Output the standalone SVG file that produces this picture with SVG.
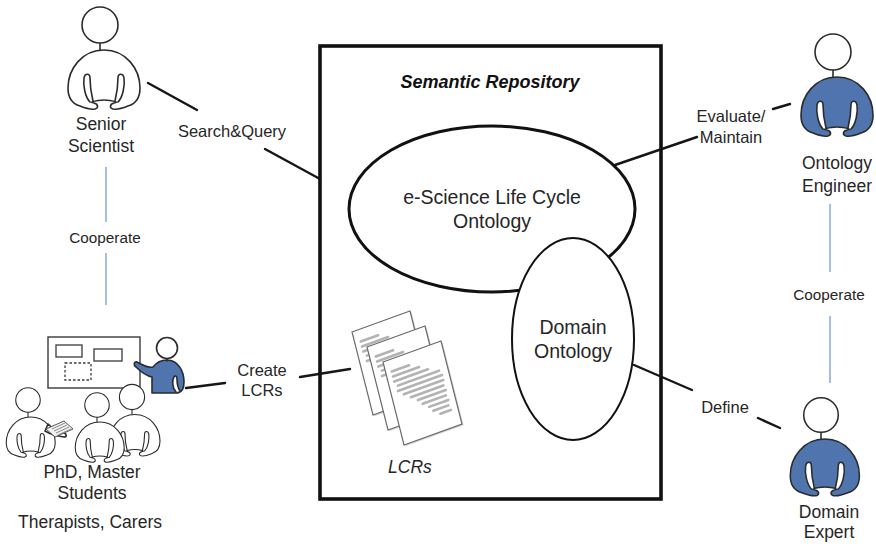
<svg xmlns="http://www.w3.org/2000/svg" xmlns:xlink="http://www.w3.org/1999/xlink" width="876" height="544" viewBox="0 0 876 544">
  <style>
    text { font-family: "Liberation Sans", Arial, sans-serif; fill: #262626; text-anchor: middle; }
    .lbl { font-size: 16.5px; }
    .coop { font-size: 15.3px; }
    .who { font-size: 17.5px; }
    .onto { font-size: 19.5px; }
    .title { font-size: 18px; font-weight: bold; font-style: italic; fill: #111; }
    .ital { font-size: 17.5px; font-style: italic; }
    .link { stroke: #161616; stroke-width: 2.4; fill: none; stroke-linecap: round; }
    .coop-link { stroke: #8eaee0; stroke-width: 1.6; fill: none; }
    .ink { stroke: #2b2b2b; stroke-width: 1.6; stroke-linejoin: round; stroke-linecap: round; }
    .page { fill: #fff; stroke: #6a6a6a; stroke-width: 1.2; }
    .textline { stroke: #b3b3b3; stroke-width: 2.6; stroke-linecap: round; }
  </style>
  <defs>
    <!-- seated/standing figure, head centred on the origin -->
    <g id="person">
      <path class="ink" d="M0,18 V26"/>
      <path class="ink" d="M4,25 C26,25 40,44 40,63 C40,73 35,79 28,81 C23,83 18,85 13,84 C9,83 10,79 14,78 L17,77 C13,76 8,75 4,75 C0,75 -5,76 -9,77 L-6,78 C-2,79 -1,83 -5,84 C-10,85 -15,83 -20,81 C-27,79 -32,73 -32,63 C-32,44 -18,25 4,25 Z"/>
      <path class="ink" fill="#fff" d="M-10,77 C-15,72 -17,60 -16,53 C-15,48 -10,48 -10,53 C-10,60 -9,68 -7,76"/>
      <path class="ink" fill="#fff" d="M18,77 C23,72 25,60 24,53 C23,48 18,48 18,53 C18,60 17,68 15,76"/>
      <circle class="ink" cx="0" cy="0" r="18" fill="#fff"/>
    </g>
    <!-- one document sheet in a 100x100 frame -->
    <g id="sheet">
      <path d="M2,2 L102,2 L102,102 L2,102 Z" fill="#d6d6d6" stroke="none"/>
      <path class="page" d="M0,0 L100,0 L100,100 L0,100 Z" vector-effect="non-scaling-stroke"/>
      <g class="textline" vector-effect="non-scaling-stroke">
        <line x1="10" y1="14" x2="40" y2="14" vector-effect="non-scaling-stroke"/>
        <line x1="10" y1="20" x2="55" y2="20" vector-effect="non-scaling-stroke"/>
        <line x1="10" y1="26" x2="68" y2="26" vector-effect="non-scaling-stroke"/>
        <line x1="14" y1="32" x2="85" y2="32" vector-effect="non-scaling-stroke"/>
        <line x1="12" y1="38" x2="88" y2="38" vector-effect="non-scaling-stroke"/>
        <line x1="20" y1="44" x2="88" y2="44" vector-effect="non-scaling-stroke"/>
        <line x1="30" y1="50" x2="86" y2="50" vector-effect="non-scaling-stroke"/>
        <line x1="40" y1="56" x2="88" y2="56" vector-effect="non-scaling-stroke"/>
        <line x1="46" y1="62" x2="86" y2="62" vector-effect="non-scaling-stroke"/>
        <line x1="55" y1="68" x2="88" y2="68" vector-effect="non-scaling-stroke"/>
        <line x1="60" y1="74" x2="86" y2="74" vector-effect="non-scaling-stroke"/>
        <line x1="70" y1="80" x2="88" y2="80" vector-effect="non-scaling-stroke"/>
      </g>
    </g>
  </defs>

  <rect width="876" height="544" fill="#fff"/>

  <!-- connectors -->
  <g id="connectors">
    <line class="link" x1="148" y1="83" x2="197" y2="110"/>
    <line class="link" x1="265" y1="149" x2="320" y2="179"/>
    <line class="link" x1="615" y1="165" x2="697" y2="137"/>
    <line class="link" x1="773" y1="109" x2="790" y2="104"/>
    <line class="link" x1="634" y1="365" x2="692" y2="390"/>
    <line class="link" x1="758" y1="418" x2="780" y2="428"/>
    <line class="link" x1="186" y1="388" x2="225" y2="383"/>
    <line class="link" x1="300" y1="377" x2="350" y2="369"/>
    <line class="coop-link" x1="106" y1="167" x2="106" y2="222"/>
    <line class="coop-link" x1="106" y1="253" x2="106" y2="305"/>
    <line class="coop-link" x1="830" y1="204" x2="830" y2="272"/>
    <line class="coop-link" x1="830" y1="316" x2="830" y2="383"/>
  </g>

  <!-- connector labels -->
  <g id="labels">
    <text class="lbl" x="232" y="137">Search&amp;Query</text>
    <text class="lbl" x="731" y="122">Evaluate/</text>
    <text class="lbl" x="731" y="143">Maintain</text>
    <text class="lbl" x="725" y="413">Define</text>
    <text class="lbl" x="262" y="376">Create</text>
    <text class="lbl" x="262" y="396">LCRs</text>
    <text class="coop" x="105" y="243">Cooperate</text>
    <text class="coop" x="829" y="300">Cooperate</text>
  </g>

  <!-- repository container -->
  <g id="semantic-repository">
    <rect x="320" y="46" width="341" height="453" fill="none" stroke="#111" stroke-width="3.6"/>
    <text class="title" x="490" y="88">Semantic Repository</text>
  </g>

  <g id="lifecycle-ontology">
    <ellipse cx="492" cy="209" rx="143" ry="83" fill="#fff" stroke="#111" stroke-width="3"/>
    <text class="onto" x="492" y="204">e-Science Life Cycle</text>
    <text class="onto" x="492" y="228">Ontology</text>
  </g>

  <g id="domain-ontology">
    <ellipse cx="573" cy="339" rx="61" ry="101" fill="#fff" stroke="#111" stroke-width="2"/>
    <text class="onto" x="573" y="334">Domain</text>
    <text class="onto" x="573" y="358">Ontology</text>
  </g>

  <g id="lcrs">
    <use xlink:href="#sheet" href="#sheet" transform="matrix(0.58,-0.21,0.21,0.83,352,332)"/>
    <use xlink:href="#sheet" href="#sheet" transform="matrix(0.58,-0.21,0.21,0.83,367,347)"/>
    <use xlink:href="#sheet" href="#sheet" transform="matrix(0.58,-0.21,0.21,0.83,383,362)"/>
    <text class="ital" x="410" y="473">LCRs</text>
  </g>

  <g id="senior-scientist">
    <use xlink:href="#person" href="#person" transform="translate(100,25)" fill="#fff"/>
    <text class="who" x="101" y="130">Senior</text>
    <text class="who" x="101" y="152">Scientist</text>
  </g>

  <g id="ontology-engineer">
    <use xlink:href="#person" href="#person" transform="translate(833,52)" fill="#5074ad"/>
    <text class="who" x="837" y="169">Ontology</text>
    <text class="who" x="837" y="192">Engineer</text>
  </g>

  <g id="domain-expert">
    <use xlink:href="#person" href="#person" transform="translate(821,415) scale(0.96)" fill="#5074ad"/>
    <text class="who" x="829" y="518">Domain</text>
    <text class="who" x="829" y="538">Expert</text>
  </g>

  <g id="students">
    <!-- whiteboard -->
    <rect x="48" y="337" width="92" height="51" fill="#fff" stroke="#3a3a3a" stroke-width="1.4"/>
    <rect x="56" y="345" width="26" height="12" fill="#fff" stroke="#3a3a3a" stroke-width="1.3"/>
    <rect x="94" y="349" width="28" height="12" fill="#fff" stroke="#3a3a3a" stroke-width="1.3"/>
    <rect x="65" y="363" width="26" height="17" fill="none" stroke="#3a3a3a" stroke-width="1.3" stroke-dasharray="2.5,2"/>
    <!-- presenter -->
    <path class="ink" fill="#5074ad" d="M167,360 C178,360 184,371 184,382 C184,388 182,392 178,393 L152,393 L152,377 C147,376 140,371 136,367 C133,365 134,361 137,362 C142,365 148,368 153,367 C156,363 160,360 167,360 Z"/>
    <path class="ink" fill="#fff" d="M176,392 C172,388 172,380 174,377 C175,375 177,376 177,379 C177,383 178,388 180,391"/>
    <path class="ink" d="M167,358 V361"/>
    <circle class="ink" cx="167" cy="348" r="10.5" fill="#fff"/>
    <!-- audience -->
    <use xlink:href="#person" href="#person" transform="translate(28,400) scale(0.68)" fill="#fff"/>
    <path class="ink" fill="#fff" d="M48,424 C52,428 58,431 64,433 C67,434 67,437 64,437 C57,436 50,434 45,431 Z"/>
    <path d="M46,429 L64,421 L73,429 L55,437 Z" fill="#f2f2f2" stroke="#555" stroke-width="1"/>
    <path d="M52,429 L65,423 M54,431 L67,425 M56,433 L69,427 M58,435 L71,429" stroke="#8a8a8a" stroke-width="1"/>
    <use xlink:href="#person" href="#person" transform="translate(132,397) scale(0.7)" fill="#fff"/>
    <use xlink:href="#person" href="#person" transform="translate(97,405) scale(0.68)" fill="#fff"/>
    <text class="who" x="92" y="478">PhD, Master</text>
    <text class="who" x="92" y="499">Students</text>
    <text class="who" x="90" y="528">Therapists, Carers</text>
  </g>
</svg>
